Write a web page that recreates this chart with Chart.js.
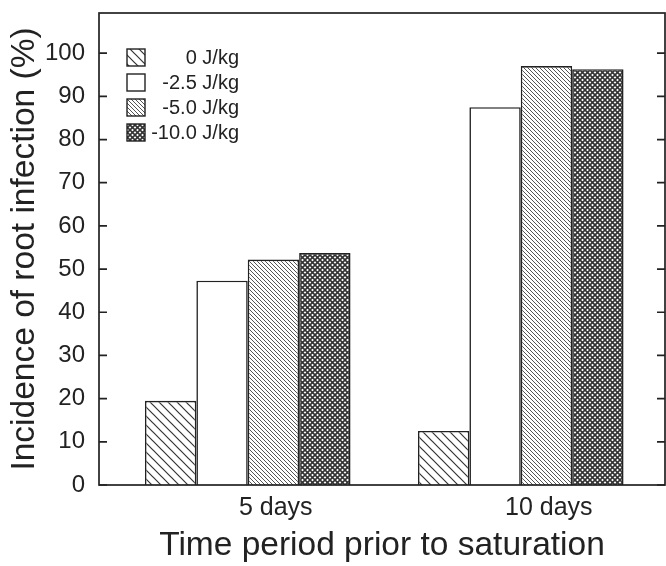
<!DOCTYPE html>
<html>
<head>
<meta charset="utf-8">
<script src="https://cdn.jsdelivr.net/npm/chart.js@4.4.1/dist/chart.umd.min.js"></script>
<style>
  html, body { margin: 0; padding: 0; background: #fff; }
</style>
</head>
<body>
<canvas id="chart" width="666" height="566"></canvas>
<script>
// Data
const categories = ['5 days', '10 days'];
const seriesLabels = ['0 J/kg', '-2.5 J/kg', '-5.0 J/kg', '-10.0 J/kg'];
const potential0 = [19.5, 12.5];
const potential25 = [47.3, 87.5];
const potential50 = [52.2, 97.0];
const potential100 = [53.7, 96.3];
const yTickLabels = [0, 10, 20, 30, 40, 50, 60, 70, 80, 90, 100];
const yMinorStep = 5;

const INK = '#222';
const FONT = "'Liberation Sans', Arial, sans-serif";

// Fill patterns
function hatch(size, color, width) {
    const c = document.createElement('canvas');
    c.width = size; c.height = size;
    const g = c.getContext('2d');
    g.fillStyle = '#fff';
    g.fillRect(0, 0, size, size);
    g.strokeStyle = color;
    g.lineWidth = width;
    g.beginPath();
    g.moveTo(-1, -1); g.lineTo(size + 1, size + 1);
    g.moveTo(-1, size - 1); g.lineTo(1, size + 1);
    g.moveTo(size - 1, -1); g.lineTo(size + 1, 1);
    g.stroke();
    return g.createPattern(c, 'repeat');
}

function crossHatch(size, color, width) {
    const c = document.createElement('canvas');
    c.width = size; c.height = size;
    const g = c.getContext('2d');
    g.fillStyle = '#fff';
    g.fillRect(0, 0, size, size);
    g.strokeStyle = color;
    g.lineWidth = width;
    g.beginPath();
    g.moveTo(-1, -1); g.lineTo(size + 1, size + 1);
    g.moveTo(-1, size + 1); g.lineTo(size + 1, -1);
    g.stroke();
    return g.createPattern(c, 'repeat');
}

const fills = [
    hatch(9, '#333', 1.2),
    '#ffffff',
    hatch(4, '#555', 1),
    crossHatch(5, '#333', 1.6)
];
const seriesValues = [potential0, potential25, potential50, potential100];

// Inward ticks on both y sides plus the frame
const frameTicks = {
    id: 'frameTicks',
    afterDatasetsDraw(chart) {
        const { ctx, chartArea: a, scales: { y } } = chart;
        ctx.save();
        ctx.strokeStyle = INK;
        ctx.lineWidth = 1.7;
        ctx.strokeRect(a.left, a.top, a.right - a.left, a.bottom - a.top);
        ctx.beginPath();
        y.ticks.forEach(t => {
            const py = y.getPixelForValue(t.value);
            const len = t.value % 10 === 0 ? 8 : 5;
            ctx.moveTo(a.left, py); ctx.lineTo(a.left + len, py);
            ctx.moveTo(a.right, py); ctx.lineTo(a.right - len, py);
        });
        ctx.stroke();
        ctx.restore();
    }
};

// Legend in the upper left, text right aligned
const legendBox = {
    id: 'legendBox',
    afterDraw(chart) {
        const ctx = chart.ctx;
        ctx.save();
        ctx.font = `20px ${FONT}`;
        ctx.textAlign = 'right';
        ctx.textBaseline = 'middle';
        chart.data.datasets.forEach((ds, i) => {
            const top = 49 + i * 25;
            ctx.fillStyle = ds.backgroundColor;
            ctx.fillRect(127, top, 18, 17);
            ctx.strokeStyle = INK;
            ctx.lineWidth = 1.4;
            ctx.strokeRect(127, top, 18, 17);
            ctx.fillStyle = INK;
            ctx.fillText(ds.label, 239, top + 9);
        });
        ctx.restore();
    }
};

new Chart(document.getElementById('chart'), {
    type: 'bar',
    data: {
        datasets: seriesLabels.map((label, i) => ({
            label,
            data: seriesValues[i].map((v, k) => ({ x: k, y: v })),
            backgroundColor: fills[i],
            borderColor: INK,
            borderWidth: 1.6,
            borderSkipped: 'bottom'
        }))
    },
    options: {
        responsive: false,
        animation: false,
        devicePixelRatio: 1,
        layout: { padding: { top: 13, right: 1, left: 0, bottom: 0 } },
        datasets: { bar: { categoryPercentage: 0.753, barPercentage: 1 } },
        plugins: { legend: { display: false }, tooltip: { enabled: false } },
        scales: {
            x: {
                type: 'linear',
                offset: false,
                bounds: 'data',
                min: -0.5448,
                max: 1.5283,
                afterBuildTicks: s => { s.ticks = categories.map((c, i) => ({ value: i })); },
                afterFit: s => { s.height = 81; s.paddingLeft = 0; s.paddingRight = 0; },
                grid: { display: false, drawTicks: false, offset: false },
                border: { display: false },
                ticks: {
                    callback: v => categories[v],
                    labelOffset: 28,
                    padding: 8,
                    color: INK,
                    font: { family: FONT, size: 25 }
                },
                title: {
                    display: true,
                    text: 'Time period prior to saturation',
                    color: INK,
                    font: { family: FONT, size: 33.5 },
                    padding: { top: 0, bottom: 0 }
                }
            },
            y: {
                min: 0,
                max: 109.3,
                afterBuildTicks: s => {
                    const t = [];
                    for (let v = 0; v <= yTickLabels[yTickLabels.length - 1]; v += yMinorStep) t.push({ value: v });
                    s.ticks = t;
                },
                afterFit: s => { s.width = 99; s.paddingTop = 0; s.paddingBottom = 0; },
                grid: { display: false, drawTicks: false },
                border: { display: false },
                ticks: {
                    callback: v => yTickLabels.includes(v) ? String(v) : '',
                    padding: 14,
                    color: INK,
                    font: { family: FONT, size: 24 }
                },
                title: {
                    display: true,
                    text: 'Incidence of root infection (%)',
                    color: INK,
                    font: { family: FONT, size: 33.5 },
                    padding: { top: 5, bottom: 0 }
                }
            }
        }
    },
    plugins: [frameTicks, legendBox]
});
</script>
</body>
</html>
